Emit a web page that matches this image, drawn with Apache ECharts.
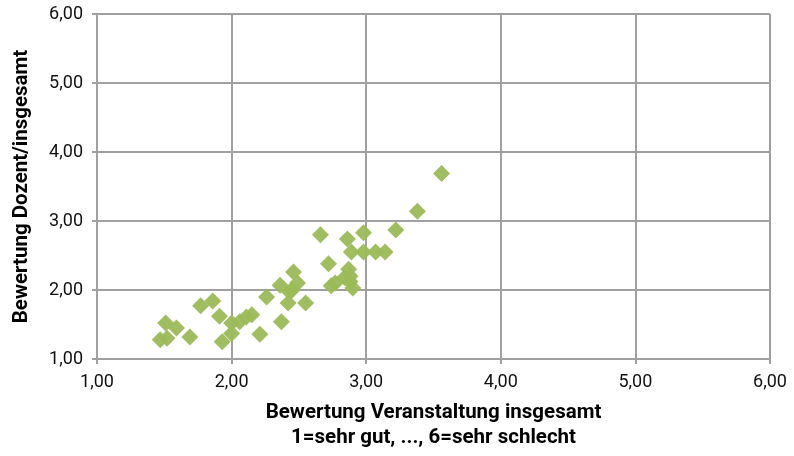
<!DOCTYPE html>
<html>
<head>
<meta charset="utf-8">
<script src="https://cdn.jsdelivr.net/npm/echarts@6/dist/echarts.min.js"></script>
<style>html,body{margin:0;padding:0;background:#fff}#c{width:794px;height:456px}</style>
</head>
<body>
<div id="c"></div>
<script>
const xValues = [1.47,1.52,1.51,1.59,1.69,1.77,1.86,1.91,1.93,2.00,2.00,2.06,2.11,2.15,2.21,2.26,2.37,2.36,2.42,2.43,2.46,2.49,2.55,2.45,2.66,2.72,2.77,2.74,2.86,2.87,2.88,2.90,2.89,2.98,2.98,3.07,3.14,3.22,3.38,3.56,2.84,2.88];
const yValues = [1.28,1.30,1.52,1.45,1.32,1.77,1.84,1.62,1.25,1.37,1.52,1.54,1.61,1.64,1.36,1.90,1.54,2.07,1.81,1.97,2.26,2.10,1.81,2.00,2.80,2.38,2.10,2.06,2.74,2.30,2.12,2.03,2.55,2.83,2.55,2.55,2.55,2.87,3.14,3.69,2.18,2.20];
const xTitle = 'Bewertung Veranstaltung insgesamt\n1=sehr gut, ..., 6=sehr schlecht';
const yTitle = 'Bewertung Dozent/insgesamt';

const points = xValues.map((x, i) => [x, yValues[i]]);
const fmt = v => v.toFixed(2).replace('.', ',');
const font = 'Roboto, "Liberation Sans", sans-serif';
const chart = echarts.init(document.getElementById('c'), null, {renderer: 'canvas'});
chart.setOption({
  animation: false,
  backgroundColor: '#fff',
  grid: {left: 97, right: 24, top: 14, bottom: 97, containLabel: false},
  xAxis: {
    type: 'value', min: 1, max: 6, interval: 1,
    name: xTitle, nameLocation: 'middle', nameGap: 41,
    nameTextStyle: {fontFamily: font, fontSize: 20.5, fontWeight: 'bold', color: '#000', lineHeight: 25},
    axisLine: {show: true, lineStyle: {color: '#a0a0a0', width: 2}},
    axisTick: {show: true, inside: false, length: 5, lineStyle: {color: '#a0a0a0', width: 2}},
    axisLabel: {formatter: fmt, fontFamily: font, fontSize: 18, color: '#111', margin: 14},
    splitLine: {show: true, lineStyle: {color: '#a0a0a0', width: 2}}
  },
  yAxis: {
    type: 'value', min: 1, max: 6, interval: 1,
    name: yTitle, nameLocation: 'middle', nameGap: 65, nameRotate: 90,
    nameTextStyle: {fontFamily: font, fontSize: 20.5, fontWeight: 'bold', color: '#000'},
    axisLine: {show: true, lineStyle: {color: '#a0a0a0', width: 2}},
    axisTick: {show: true, inside: false, length: 5, lineStyle: {color: '#a0a0a0', width: 2}},
    axisLabel: {formatter: fmt, fontFamily: font, fontSize: 18, color: '#111', margin: 14},
    splitLine: {show: true, lineStyle: {color: '#a0a0a0', width: 2}}
  },
  series: [{
    type: 'scatter',
    data: points,
    symbol: 'diamond',
    symbolSize: [17, 17],
    itemStyle: {color: '#9BBB59', opacity: 0.95}
  }]
});
</script>
</body>
</html>
